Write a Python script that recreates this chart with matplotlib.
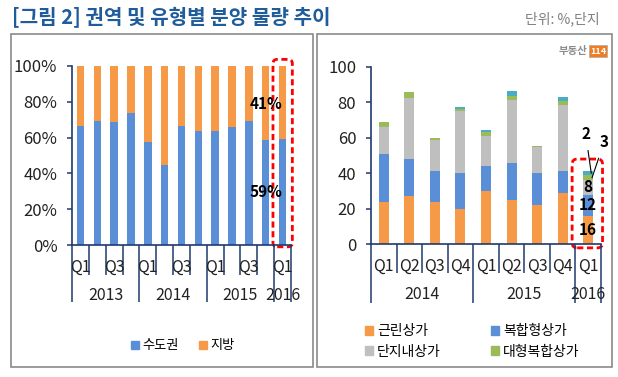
import matplotlib
matplotlib.use('Agg')
import numpy as np
import matplotlib.pyplot as plt
from matplotlib.patches import FancyBboxPatch, Rectangle, Patch

plt.rcParams['font.family'] = ['Noto Sans CJK KR', 'DejaVu Sans']

# ---- data ----
# left: share of supply by region (%), 2013 Q1 .. 2016 Q1
left_years = ['2013', '2014', '2015', '2016']
left_q = ['Q1', 'Q2', 'Q3', 'Q4'] * 3 + ['Q1']
metro = [66.7, 69.5, 68.9, 73.9, 57.7, 44.7, 66.7, 63.9, 63.9, 66.0, 69.5, 58.8, 59.0]
local = [100 - v for v in metro]

# right: supply by shop type (count), 2014 Q1 .. 2016 Q1
right_years = ['2014', '2015', '2016']
right_q = ['Q1', 'Q2', 'Q3', 'Q4'] * 2 + ['Q1']
neighborhood = [24, 27, 24, 20, 30, 25, 22, 29, 16]
complex_shop = [27, 21, 17.5, 20, 14, 21, 18, 12.4, 12]
apt_shop = [15, 34.5, 17, 35, 17, 35, 15, 37.3, 8]
large_complex = [3, 3, 1.5, 1.2, 2, 2.7, 0.6, 1.9, 3]
other_shop = [0, 0, 0, 1.3, 1.3, 2.6, 0, 2.4, 2]

C_BLUE = '#5A8FD8'
C_ORANGE = '#F79A48'
C_GRAY = '#BFBFBF'
C_GREEN = '#9BBB59'
C_CYAN = '#4BACC6'
NAVY = '#1F3A6E'
TXT = '#222222'

W, H = 618, 377
fig = plt.figure(figsize=(W / 100, H / 100), dpi=100)


def fx(px):
    return px / W


def fy(py):
    return 1 - py / H


# panel frames
for x0, x1 in [(10.5, 313), (317, 611.5)]:
    fig.patches.append(Rectangle((fx(x0), fy(366.5)), fx(x1 - x0), (366.5 - 33.5) / H,
                                 transform=fig.transFigure, fill=False,
                                 edgecolor='#8A8A8A', linewidth=1.2))

fig.text(fx(12), fy(17), '[그림 2] 권역 및 유형별 분양 물량 추이', fontsize=14.5,
         fontweight='bold', color='#1F5C99', ha='left', va='center')
fig.text(fx(600), fy(19), '단위: %,단지', fontsize=10, color='#7F7F7F',
         ha='right', va='center')


def style_axis(ax, n, major, minor, short_px, long_px, qlabels, qpos, years, ypos):
    ax.set_xlim(-0.5, n - 0.5)
    ax.set_ylim(0, 100)
    for s in ['top', 'right']:
        ax.spines[s].set_visible(False)
    for s in ['left', 'bottom']:
        ax.spines[s].set_color(NAVY)
        ax.spines[s].set_linewidth(1.2)
    ax.set_xticks(major)
    ax.set_xticks(minor, minor=True)
    ax.set_xticklabels([])
    ax.tick_params(axis='x', which='major', length=long_px * 0.72, color=NAVY, width=1.1)
    ax.tick_params(axis='x', which='minor', length=short_px * 0.72, color=NAVY, width=1.1)
    ax.tick_params(axis='y', length=3.6, color=NAVY, width=1.1, labelsize=12,
                   labelcolor=TXT, pad=7)
    tr = ax.get_xaxis_transform()
    for p, q in zip(qpos, qlabels):
        ax.text(p, -0.125, q, transform=tr, ha='center', va='center', fontsize=11.5, color=TXT)
    for p, y in zip(ypos, years):
        ax.text(p, -0.28, y, transform=tr, ha='center', va='center', fontsize=11.5, color=TXT)


# ---- left chart ----
axl = fig.add_axes([fx(72), fy(245), fx(291 - 72), (245 - 66) / H])
xl = np.arange(len(metro))
axl.bar(xl, metro, width=0.44, color=C_BLUE, label='수도권')
axl.bar(xl, local, width=0.44, bottom=metro, color=C_ORANGE, label='지방')
axl.set_yticks([0, 20, 40, 60, 80, 100])
axl.set_yticklabels(['0%', '20%', '40%', '60%', '80%', '100%'])
style_axis(axl, len(metro), [-0.5, 3.5, 7.5, 11.5, 12.5],
           [0.5, 1.5, 2.5, 4.5, 5.5, 6.5, 8.5, 9.5, 10.5], 30, 57,
           [left_q[i] for i in range(0, 13, 2)], list(range(0, 13, 2)),
           left_years, [1.5, 5.5, 9.5, 12])
axl.text(11, metro[-1] + local[-1] / 2 - 0.5, '%d%%' % round(local[-1]), fontsize=11,
         fontweight='bold', ha='center', va='center', color='black')
axl.text(11, metro[-1] / 2, '%d%%' % round(metro[-1]), fontsize=11,
         fontweight='bold', ha='center', va='center', color='black')
axl.add_patch(FancyBboxPatch((11.43, -1), 1.15, 104.7,
                             boxstyle='round,pad=0,rounding_size=0.25',
                             mutation_aspect=9.4, fill=False, edgecolor='#FF0000',
                             linewidth=2, linestyle=(0, (2.2, 1.3)), clip_on=False))
hl = [Patch(color=C_BLUE, label='수도권'), Patch(color=C_ORANGE, label='지방')]
fig.legend(handles=hl, loc='center', bbox_to_anchor=(fx(183), fy(346)), ncol=2,
           frameon=False, fontsize=9.5, handlelength=0.6, handleheight=0.6,
           handletextpad=0.3, columnspacing=1.5)

# ---- right chart ----
axr = fig.add_axes([fx(371), fy(244.3), fx(601 - 371), (244.3 - 66.7) / H])
xr = np.arange(len(neighborhood))
series = [(neighborhood, C_ORANGE, '근린상가'), (complex_shop, C_BLUE, '복합형상가'),
          (apt_shop, C_GRAY, '단지내상가'), (large_complex, C_GREEN, '대형복합상가'),
          (other_shop, C_CYAN, '기타')]
bottom = np.zeros(len(xr))
for vals, col, lab in series:
    axr.bar(xr, vals, width=0.39, bottom=bottom, color=col, label=lab)
    bottom = bottom + np.array(vals)
axr.set_yticks([0, 20, 40, 60, 80, 100])
style_axis(axr, len(xr), [-0.5, 3.5, 7.5, 8.5],
           [0.5, 1.5, 2.5, 4.5, 5.5, 6.5], 29, 59,
           right_q, list(range(len(xr))), right_years, [1.5, 5.5, 8])
lx = len(xr) - 1
axr.text(lx, neighborhood[-1] / 2, '%d' % neighborhood[-1], fontsize=11,
         fontweight='bold', ha='center', va='center')
axr.text(lx, neighborhood[-1] + complex_shop[-1] / 2, '%d' % complex_shop[-1], fontsize=11,
         fontweight='bold', ha='center', va='center')
axr.text(lx, neighborhood[-1] + complex_shop[-1] + apt_shop[-1] / 2, '%d' % apt_shop[-1],
         fontsize=11, fontweight='bold', ha='center', va='center')
top_large = neighborhood[-1] + complex_shop[-1] + apt_shop[-1] + large_complex[-1]
axr.annotate('%d' % other_shop[-1], xy=(lx + 0.12, top_large + other_shop[-1] / 2),
             xytext=(lx - 0.1, 62), fontsize=11, fontweight='bold', ha='center',
             va='center', annotation_clip=False,
             arrowprops=dict(arrowstyle='-', color='black', lw=0.8, shrinkA=4, shrinkB=0))
axr.annotate('%d' % large_complex[-1], xy=(lx + 0.15, top_large - large_complex[-1] / 2),
             xytext=(lx + 0.62, 57.5), fontsize=11, fontweight='bold', ha='center',
             va='center', annotation_clip=False,
             arrowprops=dict(arrowstyle='-', color='black', lw=0.8, shrinkA=4, shrinkB=0))
axr.add_patch(FancyBboxPatch((7.37, -2), 1.19, 50,
                             boxstyle='round,pad=0,rounding_size=0.2',
                             mutation_aspect=14.3, fill=False, edgecolor='#FF0000',
                             linewidth=2, linestyle=(0, (2.2, 1.3)), clip_on=False))
hr = [Patch(color=C_ORANGE, label='근린상가'), Patch(color=C_GRAY, label='단지내상가'),
      Patch(color=C_BLUE, label='복합형상가'), Patch(color=C_GREEN, label='대형복합상가')]
fig.legend(handles=hr, loc='upper left', bbox_to_anchor=(fx(352), fy(312)), ncol=2,
           frameon=False, fontsize=10, handlelength=0.6, handleheight=0.6,
           handletextpad=0.3, columnspacing=3.6, labelspacing=0.45)

# watermark
fig.text(fx(587), fy(51), '부동산', fontsize=7.5, color='#8C8C8C', fontweight='bold',
         ha='right', va='center')
fig.text(fx(598), fy(51), '114', fontsize=6.5, color='white', fontweight='bold',
         ha='center', va='center',
         bbox=dict(boxstyle='square,pad=0.15', facecolor='#F07D21', edgecolor='#B0B0B0',
                   linewidth=0.6))

fig.savefig('out.png', dpi=100)
